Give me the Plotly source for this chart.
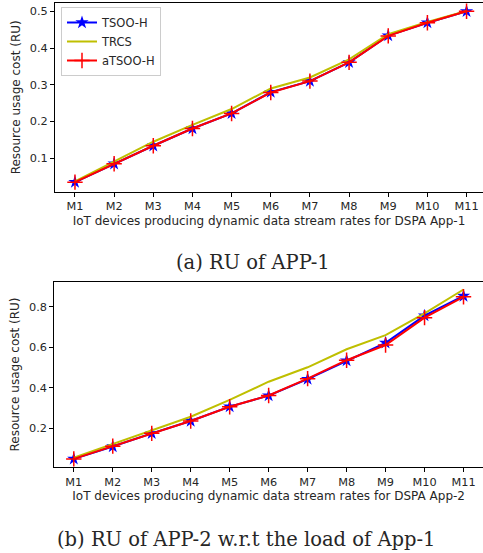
import plotly.graph_objects as go

categories = ["M1", "M2", "M3", "M4", "M5", "M6", "M7", "M8", "M9", "M10", "M11"]

app1_tsoo_h = [0.035, 0.085, 0.134, 0.181, 0.222, 0.280, 0.310, 0.361, 0.434, 0.469, 0.500]
app1_trcs = [0.037, 0.092, 0.145, 0.191, 0.234, 0.290, 0.320, 0.369, 0.438, 0.471, 0.501]
app1_atsoo_h = [0.035, 0.085, 0.134, 0.181, 0.222, 0.279, 0.310, 0.361, 0.433, 0.469, 0.500]

app2_tsoo_h = [0.049, 0.110, 0.175, 0.236, 0.307, 0.361, 0.443, 0.534, 0.622, 0.756, 0.853]
app2_trcs = [0.055, 0.123, 0.188, 0.257, 0.340, 0.430, 0.501, 0.590, 0.660, 0.767, 0.885]
app2_atsoo_h = [0.049, 0.112, 0.175, 0.236, 0.306, 0.362, 0.445, 0.536, 0.611, 0.746, 0.849]

series_names = ["TSOO-H", "TRCS", "aTSOO-H"]
y_ticks_top = [0.1, 0.2, 0.3, 0.4, 0.5]
y_ticks_bottom = [0.2, 0.4, 0.6, 0.8]

W, H = 483, 553
FONT = "DejaVu Sans, sans-serif"
SERIF = "DejaVu Serif, serif"
TXT = "#262626"
x_idx = list(range(len(categories)))

fig = go.Figure()

def add_series(data, xa, ya, show):
    t, r, a = data
    fig.add_trace(go.Scatter(x=x_idx, y=t, name=series_names[0], mode="lines+markers",
                             line=dict(color="#0000ff", width=2),
                             marker=dict(symbol="star", size=10, color="#0000ff", line=dict(width=0)),
                             xaxis=xa, yaxis=ya, showlegend=show, legendgroup="a"))
    fig.add_trace(go.Scatter(x=x_idx, y=r, name=series_names[1], mode="lines",
                             line=dict(color="#bfbf00", width=2),
                             xaxis=xa, yaxis=ya, showlegend=show, legendgroup="b"))
    fig.add_trace(go.Scatter(x=x_idx, y=a, name=series_names[2], mode="lines+markers",
                             line=dict(color="#ff0000", width=2),
                             marker=dict(symbol="cross-thin", size=11, color="#ff0000",
                                         line=dict(width=1.5, color="#ff0000")),
                             xaxis=xa, yaxis=ya, showlegend=show, legendgroup="c"))

add_series((app1_tsoo_h, app1_trcs, app1_atsoo_h), "x", "y", True)
add_series((app2_tsoo_h, app2_trcs, app2_atsoo_h), "x2", "y2", False)

def py(p):
    return 1 - p / H

axis_common = dict(showgrid=False, zeroline=False, showline=True, linecolor="black", linewidth=1,
                   ticks="outside", ticklen=4, tickcolor="black", tickwidth=1,
                   tickfont=dict(family=FONT, size=11.3, color=TXT))
title_font = dict(family=FONT, size=12, color=TXT)

fig.update_layout(
    width=W, height=H, margin=dict(l=0, r=0, t=0, b=0),
    paper_bgcolor="white", plot_bgcolor="white",
    font=dict(family=FONT, size=11, color=TXT),
    xaxis=dict(domain=[55 / W, 1], range=[-0.51, 10.42], anchor="y", mirror=True,
               tickmode="array", tickvals=x_idx, ticktext=categories,
               title=dict(text="IoT devices producing dynamic data stream rates for DSPA App-1",
                          font=title_font, standoff=4),
               **axis_common),
    yaxis=dict(domain=[py(191.7), py(3)], range=[0.009, 0.5226], anchor="x",
               tickmode="array", tickvals=y_ticks_top, ticktext=[str(v) for v in y_ticks_top],
               title=dict(text="Resource usage cost (RU)", font=title_font, standoff=6),
               **axis_common),
    xaxis2=dict(domain=[54.3 / W, 1], range=[-0.5, 10.5], anchor="y2", mirror=True,
                tickmode="array", tickvals=x_idx, ticktext=categories,
                title=dict(text="IoT devices producing dynamic data stream rates for DSPA App-2",
                           font=title_font, standoff=4),
                **axis_common),
    yaxis2=dict(domain=[py(467), py(282)], range=[0.009, 0.922], anchor="x2",
                tickmode="array", tickvals=y_ticks_bottom, ticktext=[str(v) for v in y_ticks_bottom],
                title=dict(text="Resource usage cost (RU)", font=title_font, standoff=6),
                **axis_common),
    legend=dict(x=61 / W, y=py(7), xanchor="left", yanchor="top", bgcolor="white",
                bordercolor="#cccccc", borderwidth=1, font=dict(family=FONT, size=11.5, color=TXT),
                tracegroupgap=0, itemwidth=30),
    annotations=[
        dict(text="(a) RU of APP-1", x=252.5 / W, y=py(262), xref="paper", yref="paper",
             showarrow=False, xanchor="center", yanchor="middle",
             font=dict(family=SERIF, size=19.5, color=TXT)),
        dict(text="(b) RU of APP-2 w.r.t the load of App-1", x=246 / W, y=py(539), xref="paper",
             yref="paper", showarrow=False, xanchor="center", yanchor="middle",
             font=dict(family=SERIF, size=19.5, color=TXT)),
    ],
)

fig.write_html("out.html", config={"displayModeBar": False},
               post_script="document.body.style.margin='0';")
